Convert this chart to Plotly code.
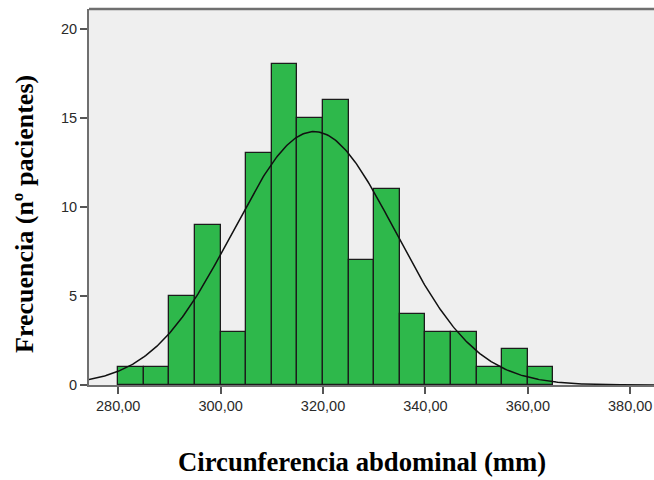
import numpy as np
import plotly.graph_objects as go

# Data: histogram bins (lower edges) and counts
bin_starts = [280, 285, 290, 295, 300, 305, 310, 315, 320, 325, 330, 335, 340, 345, 350, 355, 360]
counts = [1, 1, 5, 9, 3, 13, 18, 15, 16, 7, 11, 4, 3, 3, 1, 2, 1]
bin_width = 5
x_tick_vals = [280, 300, 320, 340, 360, 380]
x_tick_text = ["280,00", "300,00", "320,00", "340,00", "360,00", "380,00"]
y_tick_vals = [0, 5, 10, 15, 20]

# Normal fit parameters
fit_mean = 318.25
fit_sd = 15.85
n_total = sum(counts)

x_range = [274.29, 384.65]
y_range = [0, 21.1]

mids = [b + bin_width / 2 for b in bin_starts]
xc = np.linspace(x_range[0], x_range[1], 400)
yc = n_total * bin_width / (fit_sd * np.sqrt(2 * np.pi)) * np.exp(-0.5 * ((xc - fit_mean) / fit_sd) ** 2)

fig = go.Figure()
fig.add_trace(go.Bar(
    x=mids, y=counts, width=bin_width,
    marker=dict(color="#2eb84b", line=dict(color="#1c1c1c", width=1.3)),
    hoverinfo="skip",
))
fig.add_trace(go.Scatter(
    x=xc, y=yc, mode="lines",
    line=dict(color="#111111", width=1.5),
    hoverinfo="skip",
))

tick_font = dict(family="Liberation Sans, Arial", size=14.5, color="#2a2a2a")

fig.update_layout(
    width=654, height=480,
    margin=dict(l=89, r=0, t=9, b=95),
    paper_bgcolor="white",
    plot_bgcolor="#efefef",
    showlegend=False,
    bargap=0,
    xaxis=dict(
        range=x_range, tickvals=x_tick_vals, ticktext=x_tick_text,
        ticks="outside", ticklen=7, tickwidth=1.5, tickcolor="#555555",
        showline=True, linecolor="#6f6f6f", linewidth=2,
        showgrid=False, zeroline=False, mirror=False,
        tickfont=tick_font,
    ),
    yaxis=dict(
        range=y_range, tickvals=y_tick_vals,
        ticks="outside", ticklen=7, tickwidth=1.5, tickcolor="#555555",
        showline=True, linecolor="#6f6f6f", linewidth=2,
        showgrid=False, zeroline=False,
        tickfont=tick_font,
    ),
    shapes=[dict(type="line", xref="paper", yref="paper", x0=0, x1=1, y0=1, y1=1,
                 line=dict(color="#6f6f6f", width=2.5))],
    annotations=[
        dict(text="<b>Circunferencia abdominal (mm)</b>", xref="paper", yref="paper",
             x=(361.5 - 89) / 565, y=-(462 - 385) / 376, xanchor="center", yanchor="middle",
             showarrow=False, font=dict(family="Liberation Serif, Times New Roman", size=26.7, color="black")),
        dict(text="<b>Frecuencia (nº pacientes)</b>", xref="paper", yref="paper",
             x=-(89 - 24) / 565, y=(385 - 214) / 376, xanchor="center", yanchor="middle",
             textangle=-90,
             showarrow=False, font=dict(family="Liberation Serif, Times New Roman", size=26, color="black")),
    ],
)

fig.write_html("out.html")
